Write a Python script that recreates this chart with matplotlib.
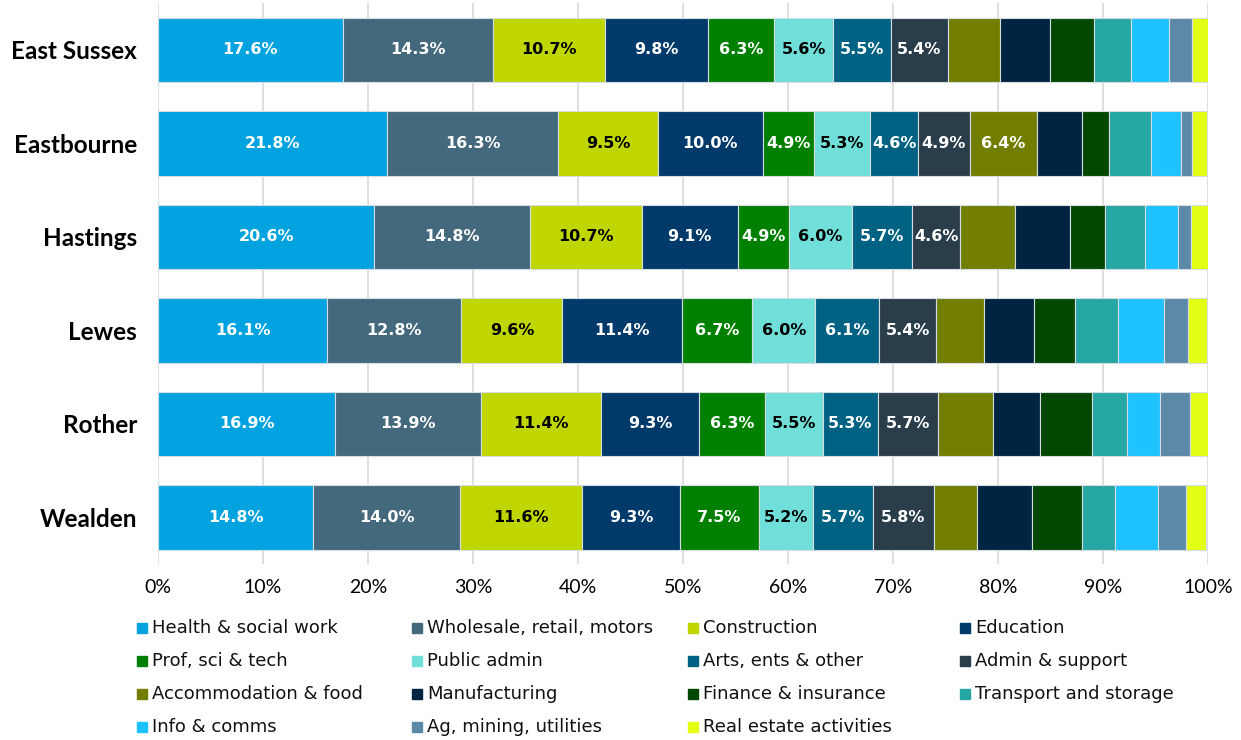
import matplotlib
matplotlib.use('Agg')
import matplotlib.pyplot as plt
from matplotlib.patches import Rectangle

plt.rcParams['font.family'] = ['Lato', 'DejaVu Sans']

areas = ['East Sussex', 'Eastbourne', 'Hastings', 'Lewes', 'Rother', 'Wealden']
sectors = ['Health & social work', 'Wholesale, retail, motors', 'Construction', 'Education',
           'Prof, sci & tech', 'Public admin', 'Arts, ents & other', 'Admin & support',
           'Accommodation & food', 'Manufacturing', 'Finance & insurance', 'Transport and storage',
           'Info & comms', 'Ag, mining, utilities', 'Real estate activities']

# share of employment (%) per sector, one list per sector in area order
health = [17.6, 21.8, 20.6, 16.1, 16.9, 14.8]
wholesale = [14.3, 16.3, 14.8, 12.8, 13.9, 14.0]
construction = [10.7, 9.5, 10.7, 9.6, 11.4, 11.6]
education = [9.8, 10.0, 9.1, 11.4, 9.3, 9.3]
prof_sci = [6.3, 4.9, 4.9, 6.7, 6.3, 7.5]
public_admin = [5.6, 5.3, 6.0, 6.0, 5.5, 5.2]
arts = [5.5, 4.6, 5.7, 6.1, 5.3, 5.7]
admin = [5.4, 4.9, 4.6, 5.4, 5.7, 5.8]
accommodation = [5.0, 6.4, 5.2, 4.6, 5.2, 4.1]
manufacturing = [4.8, 4.3, 5.3, 4.7, 4.5, 5.2]
finance = [4.1, 2.6, 3.3, 3.9, 5.0, 4.8]
transport = [3.6, 4.0, 3.8, 4.1, 3.3, 3.1]
info = [3.6, 2.8, 3.1, 4.4, 3.1, 4.1]
ag_mining = [2.2, 1.1, 1.3, 2.3, 2.9, 2.7]
real_estate = [1.7, 1.4, 1.6, 1.8, 1.7, 1.9]

values = [health, wholesale, construction, education, prof_sci, public_admin, arts, admin,
          accommodation, manufacturing, finance, transport, info, ag_mining, real_estate]

colors = ['#00A3E0', '#44687C', '#BFD600', '#003A6A', '#008000', '#70DFD9', '#006283', '#2A3D4B',
          '#727E00', '#002442', '#004800', '#26A7A3', '#1DC2FF', '#5B89A7', '#E2FF14']
dark_text = ['Construction', 'Public admin']

fig = plt.figure(figsize=(12.41, 7.40), dpi=100)
ax = fig.add_axes([0.1273, 0.2378, 0.8461, 0.7581])

ypos = list(range(len(areas)))
left = [0.0] * len(areas)
for i, (name, vals) in enumerate(zip(sectors, values)):
    ax.barh(ypos, vals, left=left, height=0.69, color=colors[i],
            edgecolor='#d5dde3', linewidth=0.8, zorder=3)
    for j, v in enumerate(vals):
        show = i < 8 or (areas[j] == 'Eastbourne' and name == 'Accommodation & food')
        if show:
            ax.text(left[j] + v / 2, j, f'{v:.1f}%', ha='center', va='center',
                    fontsize=11.5, fontweight='bold', family='DejaVu Sans', zorder=4,
                    color='black' if name in dark_text else 'white')
    left = [l + v for l, v in zip(left, vals)]

ax.set_xlim(0, 100)
ax.set_ylim(len(areas) - 0.5, -0.5)
ax.set_yticks(ypos)
ax.set_yticklabels(areas, fontsize=17.5, fontweight='bold')
ax.set_xticks(range(0, 101, 10))
ax.set_xticklabels([f'{t}%' for t in range(0, 101, 10)], fontsize=14)
ax.tick_params(axis='both', length=0, colors='#000000')
ax.tick_params(axis='y', pad=15)
ax.tick_params(axis='x', pad=11)
ax.grid(axis='x', color='#d9d9d9', linewidth=1.2, zorder=0)
for s in ax.spines.values():
    s.set_visible(False)

# legend in a 4-column grid
col_x = [137, 412, 688, 960]
row_y = [628, 661, 694, 727]
W, H = 1241, 740
for k, name in enumerate(sectors):
    cx = col_x[k % 4]
    cy = row_y[k // 4]
    fig.patches.append(Rectangle((cx / W, (H - cy - 5) / H), 10 / W, 10 / H,
                                 transform=fig.transFigure, color=colors[k]))
    fig.text((cx + 15) / W, (H - cy) / H, name, fontsize=13, family='DejaVu Sans',
             va='center', ha='left', color='#111111')

fig.savefig('out.png', dpi=100)
